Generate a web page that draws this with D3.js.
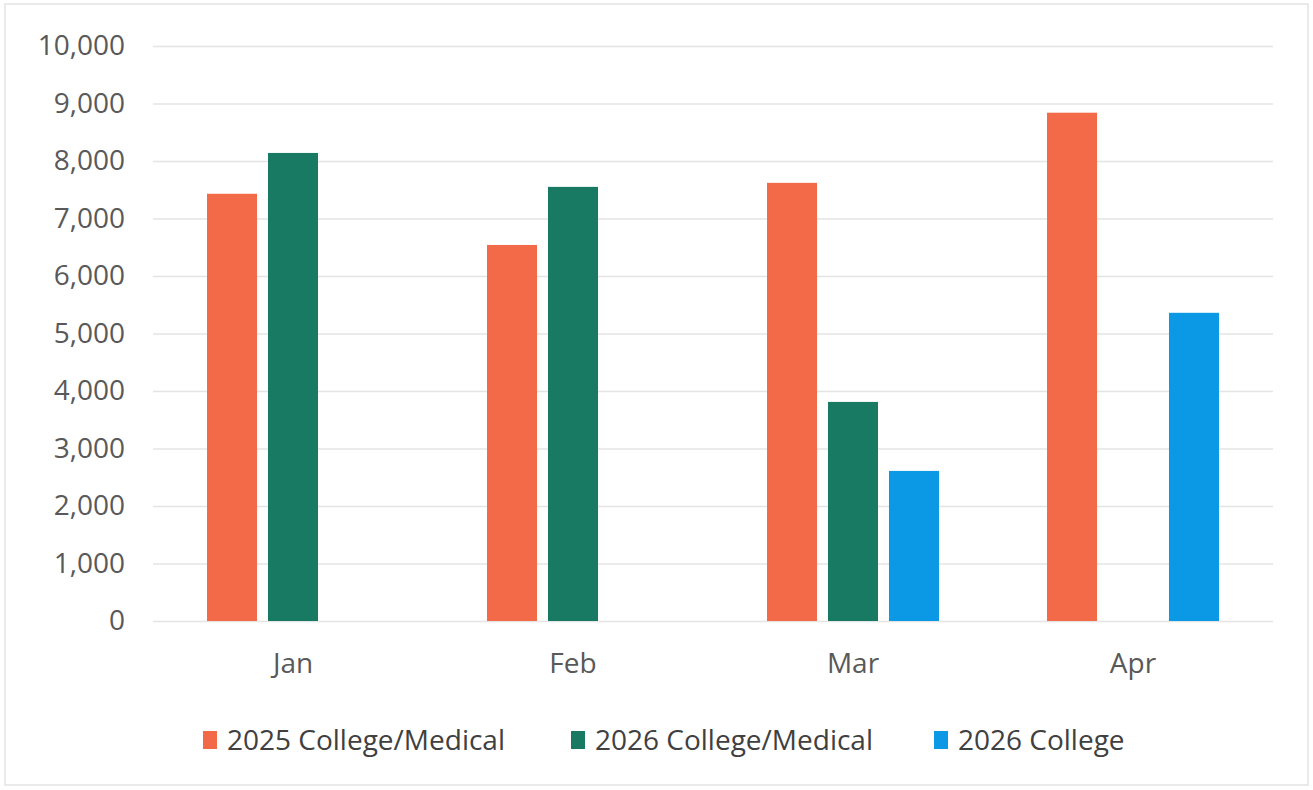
<!DOCTYPE html>
<html>
<head>
<meta charset="utf-8">
<script src="https://cdn.jsdelivr.net/npm/d3@7"></script>
<style>
  html, body { margin: 0; padding: 0; background: #fff; }
  svg { display: block; }
</style>
</head>
<body>
<div id="chart"></div>
<script>
// --- data ---
const months = ["Jan", "Feb", "Mar", "Apr"];
const series = ["2025 College/Medical", "2026 College/Medical", "2026 College"];
const values2025Med = [7430, 6540, 7620, 8840];
const values2026Med = [8140, 7550, 3810, null];
const values2026College = [null, null, 2610, 5360];
const yTicks = [0, 1000, 2000, 3000, 4000, 5000, 6000, 7000, 8000, 9000, 10000];

const seriesValues = [values2025Med, values2026Med, values2026College];
const colors = ["#f26a47", "#187a62", "#0b99e5"];

const width = 1313, height = 790;
const margin = { top: 46, right: 40, bottom: 169, left: 153 };

const svg = d3.select("#chart").append("svg")
  .attr("width", width)
  .attr("height", height);

// faint outer frame of the chart area
svg.append("rect")
  .attr("x", 5).attr("y", 4)
  .attr("width", 1303).attr("height", 781)
  .attr("fill", "none")
  .attr("stroke", "#e3e3e3")
  .attr("stroke-width", 1.5);

const x0 = d3.scaleBand()
  .domain(months)
  .range([margin.left, width - margin.right]);

const x1 = d3.scaleBand()
  .domain(series)
  .range([54, x0.bandwidth() - 54])
  .paddingInner(0.18);

const y = d3.scaleLinear()
  .domain([0, 10000])
  .range([height - margin.bottom, margin.top]);

const color = d3.scaleOrdinal().domain(series).range(colors);

// y axis + gridlines
const yAxis = svg.append("g")
  .attr("transform", `translate(${margin.left},0)`)
  .call(d3.axisLeft(y)
    .tickValues(yTicks)
    .tickFormat(d3.format(","))
    .tickSize(-(width - margin.left - margin.right))
    .tickPadding(28));
yAxis.select(".domain").remove();
yAxis.selectAll(".tick line").attr("stroke", "#e4e4e4").attr("stroke-width", 1.5);
yAxis.selectAll(".tick text")
  .attr("fill", "#595959")
  .attr("font-family", "Open Sans, sans-serif")
  .attr("font-size", 28);

// x axis
const xAxis = svg.append("g")
  .attr("transform", `translate(0,${height - margin.bottom})`)
  .call(d3.axisBottom(x0).tickSize(0).tickPadding(32));
xAxis.select(".domain").remove();
xAxis.selectAll(".tick text")
  .attr("fill", "#595959")
  .attr("font-family", "Open Sans, sans-serif")
  .attr("font-size", 28);

// bars
const rows = [];
months.forEach((m, i) => {
  series.forEach((s, j) => {
    const v = seriesValues[j][i];
    if (v != null) rows.push({ month: m, series: s, value: v });
  });
});

svg.append("g")
  .selectAll("rect")
  .data(rows)
  .join("rect")
  .attr("x", d => x0(d.month) + x1(d.series))
  .attr("width", x1.bandwidth())
  .attr("y", d => y(d.value))
  .attr("height", d => y(0) - y(d.value))
  .attr("fill", d => color(d.series));

// legend
const legendX = [203, 571, 934];
const legend = svg.append("g")
  .selectAll("g")
  .data(series)
  .join("g")
  .attr("transform", (d, i) => `translate(${legendX[i]},740)`);

legend.append("rect")
  .attr("x", 0).attr("y", -9)
  .attr("width", 14).attr("height", 18)
  .attr("fill", d => color(d));

legend.append("text")
  .attr("x", 24)
  .attr("dy", "0.35em")
  .attr("fill", "#404040")
  .attr("font-family", "Open Sans, sans-serif")
  .attr("font-size", 28)
  .text(d => d);
</script>
</body>
</html>
